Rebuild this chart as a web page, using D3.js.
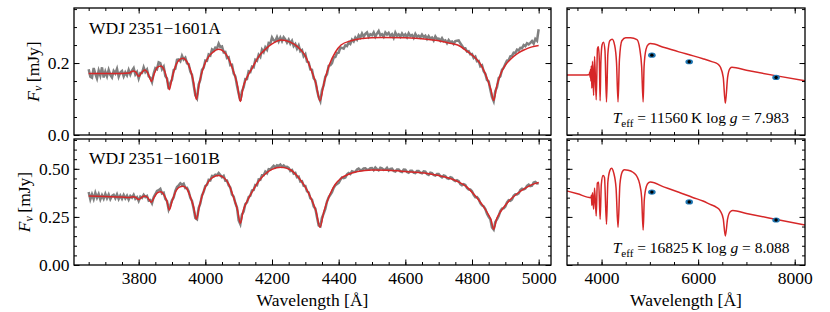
<!DOCTYPE html>
<html>
<head>
<meta charset="utf-8">
<script src="https://cdn.jsdelivr.net/npm/d3@7"></script>
<style>
body { margin: 0; background: #fff; }
svg { display: block; font-family: "Liberation Serif", "DejaVu Serif", serif; }
</style>
</head>
<body>
<script>
// observed spectra, sampled every 5 A from 3650 to 5000
var obsWave = d3.range(3650, 5001, 5);
var obsFluxA = [
  .183,.162,.159,.186,.170,.157,.179,.165,.188,.160,
  .176,.163,.181,.167,.160,.178,.171,.184,.162,.174,
  .178,.163,.174,.166,.181,.168,.179,.186,.168,.175,
  .157,.172,.172,.188,.175,.182,.163,.159,.147,.171,
  .186,.183,.202,.200,.183,.190,.164,.157,.128,.145,
  .154,.181,.184,.209,.210,.205,.220,.210,.215,.199,
  .197,.176,.167,.138,.110,.102,.140,.154,.181,.187,
  .207,.206,.224,.221,.238,.234,.243,.241,.254,.244,
  .246,.230,.231,.214,.216,.194,.195,.171,.163,.137,
  .115,.095,.122,.133,.156,.156,.177,.175,.190,.188,
  .209,.206,.223,.217,.237,.230,.244,.237,.256,.254,
  .271,.263,.261,.272,.260,.271,.261,.272,.266,.257,
  .265,.254,.262,.247,.253,.240,.249,.233,.236,.219,
  .225,.204,.202,.182,.181,.158,.151,.125,.105,.094,
  .125,.138,.162,.169,.192,.194,.200,.215,.217,.228,
  .229,.243,.242,.240,.249,.247,.257,.253,.265,.260,
  .271,.265,.277,.271,.282,.273,.281,.285,.273,.280,
  .277,.285,.273,.282,.289,.277,.280,.273,.285,.279,
  .284,.275,.280,.270,.285,.276,.280,.273,.282,.275,
  .280,.272,.283,.275,.278,.270,.281,.273,.276,.271,
  .279,.272,.276,.267,.275,.268,.271,.263,.274,.267,
  .268,.262,.269,.261,.263,.255,.264,.258,.260,.253,
  .261,.262,.263,.255,.248,.241,.241,.232,.233,.224,
  .225,.214,.218,.205,.206,.191,.194,.177,.170,.153,
  .149,.126,.105,.094,.122,.133,.158,.163,.181,.187,
  .197,.207,.208,.219,.220,.229,.228,.237,.235,.242,
  .241,.250,.247,.255,.252,.256,.261,.254,.267,.262,
  .294];
var obsFluxB = [
  .379,.341,.367,.343,.375,.349,.369,.341,.363,.345,
  .370,.347,.366,.342,.359,.365,.347,.367,.343,.361,
  .344,.364,.346,.360,.340,.359,.350,.365,.344,.353,
  .333,.355,.349,.365,.353,.359,.335,.338,.321,.352,
  .368,.385,.389,.396,.372,.376,.343,.333,.288,.310,
  .336,.351,.385,.406,.414,.425,.417,.423,.400,.401,
  .382,.349,.333,.292,.244,.238,.296,.320,.362,.381,
  .411,.417,.443,.440,.463,.461,.470,.467,.478,.468,
  .456,.463,.438,.439,.414,.403,.366,.356,.322,.299,
  .232,.212,.263,.278,.317,.326,.353,.360,.387,.390,
  .416,.414,.445,.443,.466,.466,.485,.477,.498,.496,
  .506,.516,.507,.518,.514,.522,.511,.518,.509,.510,
  .505,.489,.494,.475,.479,.456,.459,.434,.436,.412,
  .411,.383,.377,.347,.340,.304,.293,.248,.206,.201,
  .246,.267,.292,.330,.352,.365,.378,.401,.414,.421,
  .427,.443,.455,.451,.455,.471,.478,.473,.487,.484,
  .485,.496,.501,.493,.494,.502,.503,.495,.495,.503,
  .504,.493,.507,.498,.492,.505,.502,.494,.496,.505,
  .491,.500,.501,.489,.486,.497,.497,.487,.484,.496,
  .495,.484,.480,.490,.490,.480,.478,.489,.489,.480,
  .477,.487,.485,.473,.468,.480,.478,.468,.465,.473,
  .473,.462,.456,.465,.462,.451,.448,.456,.453,.442,
  .436,.441,.436,.421,.415,.420,.416,.400,.392,.392,
  .383,.365,.352,.353,.342,.322,.310,.305,.291,.267,
  .250,.238,.195,.184,.224,.237,.255,.280,.293,.295,
  .304,.325,.337,.334,.341,.360,.368,.367,.372,.390,
  .397,.393,.397,.412,.418,.410,.412,.429,.432,.424,
  .425];

// best fit models [wavelength, flux]
var modelA = [[3650,.171],[3700,.171],[3750,.171],[3772,.172],[3778,.176],[3785,.178],[3792,.174],[3800,.163],[3808,.172],[3818,.181],[3826,.175],[3832,.162],[3838,.149],[3846,.168],[3856,.188],[3866,.192],[3876,.182],[3885,.155],[3892,.126],[3900,.158],[3912,.195],[3922,.209],[3933,.213],[3944,.205],[3955,.182],[3965,.145],[3973,.099],[3982,.145],[3995,.190],[4010,.218],[4025,.232],[4040,.238],[4055,.232],[4070,.212],[4085,.175],[4096,.140],[4105,.093],[4114,.135],[4125,.160],[4140,.185],[4160,.218],[4180,.238],[4200,.253],[4227,.264],[4255,.258],[4277,.245],[4300,.220],[4317,.182],[4332,.142],[4344,.095],[4356,.145],[4372,.195],[4390,.230],[4407,.250],[4437,.262],[4470,.268],[4527,.271],[4600,.270],[4657,.267],[4700,.262],[4730,.256],[4757,.250],[4785,.233],[4807,.217],[4830,.190],[4847,.153],[4857,.125],[4865,.096],[4874,.135],[4884,.165],[4897,.190],[4915,.210],[4937,.227],[4960,.238],[4980,.245],[5000,.249]];
var modelB = [[3650,.359],[3700,.356],[3750,.353],[3772,.351],[3778,.353],[3785,.355],[3792,.350],[3800,.340],[3808,.350],[3818,.359],[3826,.352],[3832,.338],[3838,.326],[3846,.350],[3856,.375],[3866,.381],[3876,.365],[3885,.330],[3892,.286],[3900,.330],[3912,.385],[3922,.405],[3933,.410],[3944,.398],[3955,.355],[3965,.300],[3973,.238],[3982,.305],[3995,.385],[4010,.435],[4025,.458],[4040,.465],[4055,.455],[4070,.420],[4085,.350],[4096,.290],[4105,.217],[4114,.285],[4125,.330],[4138,.373],[4158,.430],[4177,.469],[4200,.497],[4227,.508],[4255,.495],[4277,.460],[4300,.405],[4317,.347],[4332,.280],[4344,.196],[4356,.280],[4372,.360],[4390,.420],[4407,.451],[4430,.472],[4457,.486],[4500,.494],[4550,.492],[4600,.486],[4657,.478],[4700,.465],[4730,.452],[4757,.434],[4785,.405],[4807,.365],[4830,.315],[4847,.269],[4857,.235],[4865,.186],[4874,.240],[4884,.272],[4897,.304],[4915,.340],[4937,.373],[4960,.400],[4980,.418],[5000,.429]];

// full models for the SED panels
var sedModelA = [[3284,.167],[3500,.167],[3700,.167],[3745,.168],[3755,.175],[3762,.160],[3770,.182],[3778,.150],[3788,.192],[3798,.130],[3812,.205],[3835,.110],[3855,.218],[3889,.098],[3915,.240],[3935,.245],[3955,.200],[3970,.095],[3985,.200],[4010,.250],[4040,.258],[4070,.235],[4102,.092],[4130,.225],[4170,.262],[4220,.266],[4270,.250],[4310,.200],[4341,.092],[4370,.210],[4420,.262],[4500,.270],[4600,.270],[4733,.265],[4790,.240],[4830,.190],[4861,.092],[4880,.190],[4920,.238],[4970,.252],[5010,.254],[5300,.243],[5600,.231],[5900,.220],[6100,.212],[6283,.204],[6400,.198],[6460,.189],[6520,.160],[6563,.088],[6610,.160],[6660,.185],[6700,.188],[7000,.180],[7600,.165],[8213,.151]];
var sedModelB = [[3284,.385],[3500,.370],[3780,.350],[3790,.362],[3798,.310],[3812,.375],[3835,.290],[3855,.400],[3889,.255],[3912,.425],[3940,.430],[3970,.238],[3995,.420],[4030,.465],[4060,.455],[4102,.212],[4130,.430],[4170,.490],[4205,.503],[4250,.480],[4300,.400],[4341,.196],[4380,.420],[4430,.485],[4472,.495],[4550,.493],[4650,.482],[4733,.460],[4790,.420],[4830,.350],[4861,.182],[4885,.340],[4930,.410],[4975,.428],[5010,.431],[5300,.405],[5600,.378],[5900,.350],[6100,.333],[6250,.315],[6380,.300],[6460,.280],[6520,.240],[6563,.151],[6610,.240],[6670,.278],[6718,.283],[7000,.268],[7600,.238],[8213,.208]];

// photometry
var photWave = [5042, 5815, 7614];
var photFluxA = [0.222, 0.2036, 0.160];
var photFluxB = [0.379, 0.328, 0.234];

var names = ["WDJ\u20092351\u22121601A", "WDJ\u20092351\u22121601B"];
var teff = ["11560", "16825"];
var logg = ["7.983", "8.088"];

var width = 830, height = 312;
var red = "#d62728";
var fs = 17.5;

var svg = d3.select('body').append('svg').attr('width', width).attr('height', height);

var xL = d3.scaleLinear().domain([3606, 5037]).range([74, 551]);
var xR = d3.scaleLinear().domain([3284, 8213]).range([567, 805]);
var yA = d3.scaleLinear().domain([0, 0.353]).range([135, 8]);
var yB = d3.scaleLinear().domain([0, 0.655]).range([265, 139]);

var xTicksL = d3.range(3800, 5001, 200), xMinorL = d3.range(3650, 5001, 50);
var xTicksR = [4000, 6000, 8000], xMinorR = d3.range(3500, 8001, 500);
var yTicksA = [0, 0.2], yMinorA = d3.range(0, 0.351, 0.05);
var yTicksB = [0, 0.25, 0.5], yMinorB = d3.range(0, 0.651, 0.05);

function axes(g, x, y, o){
  var x0 = x.range()[0], x1 = x.range()[1], y0 = y.range()[0], y1 = y.range()[1];
  var list = [
    [d3.axisBottom, x, 'translate(0,' + y0 + ')', o.xt, o.xm, o.xf, 6.6],
    [d3.axisTop, x, 'translate(0,' + y1 + ')', o.xt, o.xm, null, 0],
    [d3.axisLeft, y, 'translate(' + x0 + ',0)', o.yt, o.ym, o.yf, 4.5],
    [d3.axisRight, y, 'translate(' + x1 + ',0)', o.yt, o.ym, null, 0]
  ];
  list.forEach(function(a){
    g.append('g').attr('transform', a[2])
      .call(a[0](a[1]).tickValues(a[4]).tickSize(-3).tickFormat(''))
      .call(function(s){ s.select('.domain').remove(); });
    var ax = g.append('g').attr('transform', a[2])
      .call(a[0](a[1]).tickValues(a[3]).tickSize(-5.5).tickPadding(a[6]).tickFormat(a[5] ? a[5] : ''));
    ax.select('.domain').remove();
    ax.attr('font-family', null).attr('font-size', null);
    ax.selectAll('text').attr('font-size', fs).attr('fill', '#000');
  });
  g.selectAll('.tick line').attr('stroke', '#000').attr('stroke-width', 1);
  g.append('rect').attr('x', x0).attr('y', y1).attr('width', x1 - x0).attr('height', y0 - y1)
    .attr('fill', 'none').attr('stroke', '#000').attr('stroke-width', 1.3);
}

function clip(id, x, y){
  svg.append('clipPath').attr('id', id).append('rect')
    .attr('x', x.range()[0]).attr('y', y.range()[1])
    .attr('width', x.range()[1] - x.range()[0]).attr('height', y.range()[0] - y.range()[1]);
}

var rows = [
  {y: yA, obs: obsFluxA, model: modelA, sed: sedModelA, phot: photFluxA, yt: yTicksA, ym: yMinorA, yf: d3.format('.1f'), xlab: false, labx: 38.5},
  {y: yB, obs: obsFluxB, model: modelB, sed: sedModelB, phot: photFluxB, yt: yTicksB, ym: yMinorB, yf: d3.format('.2f'), xlab: true, labx: 30}
];

rows.forEach(function(r, i){
  var y = r.y;
  // spectrum panel
  clip('cl' + i, xL, y);
  var gl = svg.append('g');
  var pl = gl.append('g').attr('clip-path', 'url(#cl' + i + ')');
  pl.append('path')
    .datum(obsWave.map(function(w, k){ return [w, r.obs[k]]; }))
    .attr('fill', 'none').attr('stroke', '#808080').attr('stroke-width', 2.5)
    .attr('d', d3.line().x(function(d){ return xL(d[0]); }).y(function(d){ return y(d[1]); }));
  pl.append('path')
    .datum(r.model)
    .attr('fill', 'none').attr('stroke', red).attr('stroke-width', 1.5)
    .attr('d', d3.line().curve(d3.curveMonotoneX).x(function(d){ return xL(d[0]); }).y(function(d){ return y(d[1]); }));
  axes(gl, xL, y, {xt: xTicksL, xm: xMinorL, xf: r.xlab ? d3.format('d') : null, yt: r.yt, ym: r.ym, yf: r.yf});

  gl.append('text').attr('x', 89).attr('y', i == 0 ? 34.3 : 164.3)
    .attr('font-size', fs).text(names[i]);

  var cy = (y.range()[0] + y.range()[1]) / 2;
  var yl = gl.append('text').attr('transform', 'translate(' + r.labx + ',' + cy + ') rotate(-90)')
    .attr('text-anchor', 'middle').attr('font-size', fs);
  yl.append('tspan').attr('font-style', 'italic').text('F');
  yl.append('tspan').attr('font-style', 'italic').attr('font-size', 12).attr('dy', 3).text('\u03bd');
  yl.append('tspan').attr('dy', -3).text('\u2009[mJy]');

  // SED panel
  clip('cr' + i, xR, y);
  var gr = svg.append('g');
  var pr = gr.append('g').attr('clip-path', 'url(#cr' + i + ')');
  pr.append('path')
    .datum(r.sed)
    .attr('fill', 'none').attr('stroke', red).attr('stroke-width', 1.5)
    .attr('d', d3.line().curve(d3.curveMonotoneX).x(function(d){ return xR(d[0]); }).y(function(d){ return y(d[1]); }));
  pr.selectAll('ellipse').data(photWave).enter().append('ellipse')
    .attr('cx', function(d){ return xR(d); }).attr('cy', function(d, k){ return y(r.phot[k]); })
    .attr('rx', 3.8).attr('ry', 2.6).attr('fill', '#1f77b4');
  pr.selectAll('circle').data(photWave).enter().append('circle')
    .attr('cx', function(d){ return xR(d); }).attr('cy', function(d, k){ return y(r.phot[k]); })
    .attr('r', 1.7).attr('fill', '#000');
  axes(gr, xR, y, {xt: xTicksR, xm: xMinorR, xf: r.xlab ? d3.format('d') : null, yt: r.yt, ym: r.ym, yf: null});

  var t = gr.append('text').attr('x', 612.7).attr('y', i == 0 ? 123.3 : 253.3).attr('font-size', 15.5);
  t.append('tspan').attr('font-style', 'italic').text('T');
  t.append('tspan').attr('font-size', 11).attr('dy', 3.5).text('eff');
  t.append('tspan').attr('dy', -3.5).text('\u00a0=\u00a0' + teff[i] + '\u2009K\u00a0log\u00a0');
  t.append('tspan').attr('font-style', 'italic').text('g');
  t.append('tspan').text('\u00a0=\u00a0' + logg[i]);
});

svg.append('text').attr('x', (xL.range()[0] + xL.range()[1]) / 2).attr('y', 306)
  .attr('text-anchor', 'middle').attr('font-size', fs).text('Wavelength [\u00c5]');
svg.append('text').attr('x', (xR.range()[0] + xR.range()[1]) / 2).attr('y', 306)
  .attr('text-anchor', 'middle').attr('font-size', fs).text('Wavelength [\u00c5]');
</script>
</body>
</html>
